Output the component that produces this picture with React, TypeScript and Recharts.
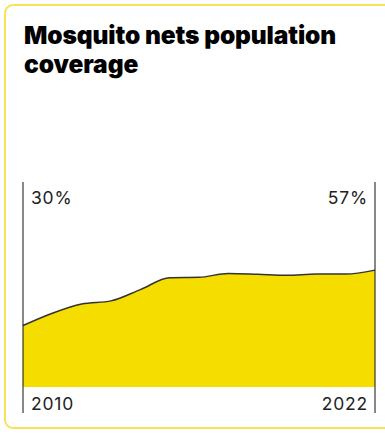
import { Area, AreaChart, ReferenceLine, XAxis, YAxis } from 'recharts';

const YEARS = [2010, 2011, 2012, 2013, 2014, 2015, 2016, 2017, 2018, 2019, 2020, 2021, 2022];
const COVERAGE = [30, 36, 40.5, 42, 47.5, 53.3, 53.5, 55.4, 55, 54.5, 55.1, 55.1, 57];
const END_LABELS = ['30%', '57%'];
const YEAR_LABELS = ['2010', '2022'];

const chartData = YEARS.map((year, i) => ({ year, value: COVERAGE[i] }));

const FONT = 'Inter, "DejaVu Sans", sans-serif';

function EdgeLabel(props: any) {
  const { viewBox, top, bottom, side } = props;
  if (!viewBox) return null;
  const { x, y, height } = viewBox;
  const left = side === 'left';
  const tx = left ? x + 8 : x - 7;
  const anchor = left ? 'start' : 'end';
  return (
    <g fontFamily={FONT} fontSize={17.5} fill="#222" letterSpacing={0.8}>
      <text x={tx} y={y + 22} textAnchor={anchor}>
        {top}
      </text>
      <text x={tx} y={y + height - 3} textAnchor={anchor}>
        {bottom}
      </text>
    </g>
  );
}

export default function App() {
  return (
    <div
      style={{
        position: 'absolute',
        left: 4,
        top: 4,
        width: 400,
        height: 425,
        border: '2px solid #f7e35a',
        borderRadius: 9,
        boxSizing: 'border-box',
        background: '#fff',
      }}
    >
      <div
        style={{
          position: 'absolute',
          left: 18,
          top: 15,
          fontFamily: FONT,
          fontWeight: 900,
          fontSize: 24.5,
          lineHeight: '29px',
          color: '#000',
          letterSpacing: -0.1,
        }}
      >
        Mosquito nets population
        <br />
        coverage
      </div>
      <AreaChart
        width={400}
        height={409}
        data={chartData}
        margin={{ top: 178, right: 29, bottom: 0, left: 19 }}
        style={{ position: 'absolute', left: -2, top: -2 }}
      >
        <XAxis dataKey="year" type="number" domain={[2010, 2022]} hide />
        <YAxis type="number" domain={[-12.7, 100]} hide allowDataOverflow />
        <Area
          type="monotone"
          dataKey="value"
          baseValue={0}
          stroke="#333"
          strokeWidth={1.5}
          fill="#f5dd00"
          fillOpacity={1}
          isAnimationActive={false}
        />
        <ReferenceLine
          x={2010}
          stroke="#111"
          strokeWidth={1}
          label={<EdgeLabel top={END_LABELS[0]} bottom={YEAR_LABELS[0]} side="left" />}
        />
        <ReferenceLine
          x={2022}
          stroke="#111"
          strokeWidth={1}
          label={<EdgeLabel top={END_LABELS[1]} bottom={YEAR_LABELS[1]} side="right" />}
        />
      </AreaChart>
    </div>
  );
}
